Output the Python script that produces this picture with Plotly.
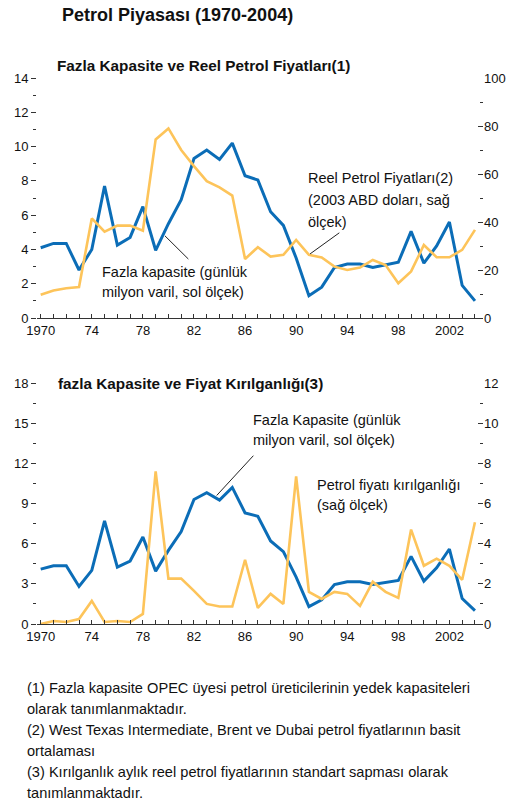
import plotly.graph_objects as go

years = list(range(1970, 2005))
excess_capacity = [4.1, 4.35, 4.35, 2.8, 4.0, 7.7, 4.25, 4.7, 6.5, 3.95,
                   5.5, 6.9, 9.3, 9.8, 9.25, 10.2, 8.3, 8.05, 6.2, 5.4,
                   3.5, 1.3, 1.8, 2.95, 3.15, 3.15, 2.95, 3.1, 3.25, 5.05,
                   3.2, 4.2, 5.6, 1.9, 1.0]
real_oil_price = [9.7, 11.5, 12.4, 12.9, 41.5, 36.0, 38.5, 38.5, 36.4, 74.4,
                  79.0, 70.0, 63.3, 57.0, 54.4, 51.0, 24.6, 29.5, 25.6, 26.3,
                  32.5, 26.3, 25.2, 21.4, 20.0, 21.0, 24.2, 22.1, 14.5, 19.4,
                  30.4, 25.3, 25.3, 28.4, 36.7]
volatility = [0.0, 0.15, 0.1, 0.25, 1.15, 0.1, 0.15, 0.1, 0.5, 7.6,
              2.26, 2.26, 1.65, 1.0, 0.87, 0.87, 3.2, 0.8, 1.5, 1.0,
              7.35, 1.6, 1.25, 1.6, 1.5, 0.9, 2.1, 1.6, 1.3, 4.7,
              2.9, 3.25, 2.9, 2.2, 5.07]
x_tickvals = [1970, 1974, 1978, 1982, 1986, 1990, 1994, 1998, 2002]
x_ticktext = ["1970", "74", "78", "82", "86", "90", "94", "98", "2002"]

OX, OY = 0, 0
W, H = 517, 805
BLUE = "#0b6db7"
ORANGE = "#fdc45a"
FONT = "Liberation Sans, Arial, sans-serif"
TXT = "#111111"


def px(x):
    return (x - OX) / W


def py(y):
    return 1 - (y - OY) / H


fig = go.Figure()
# top chart
fig.add_trace(go.Scatter(x=years, y=real_oil_price, mode="lines", xaxis="x", yaxis="y2",
                         line=dict(color=ORANGE, width=2.6), showlegend=False))
fig.add_trace(go.Scatter(x=years, y=excess_capacity, mode="lines", xaxis="x", yaxis="y",
                         line=dict(color=BLUE, width=3), showlegend=False))
# bottom chart
fig.add_trace(go.Scatter(x=years, y=volatility, mode="lines", xaxis="x2", yaxis="y4",
                         line=dict(color=ORANGE, width=2.6), showlegend=False))
fig.add_trace(go.Scatter(x=years, y=excess_capacity, mode="lines", xaxis="x2", yaxis="y3",
                         line=dict(color=BLUE, width=3), showlegend=False))

xdom = [px(37), px(483)]
top_dom = [py(318), py(78)]
bot_dom = [py(624), py(383)]
xrange_ = [1969.71, 2004.63]

tickfont = dict(family=FONT, size=13, color=TXT)

xaxis_common = dict(domain=xdom, range=xrange_, tickvals=x_tickvals, ticktext=x_ticktext,
                    ticks="inside", ticklen=4, tickcolor="#333", tickwidth=1,
                    showline=True, linecolor="#333", linewidth=1, showgrid=False,
                    zeroline=False, tickfont=tickfont, automargin=False,
                    minor=dict(dtick=1, tick0=1970, ticks="inside", ticklen=4,
                               tickcolor="#333", tickwidth=1, showgrid=False))


def yleft(dom, rng, dtick, anchor):
    return dict(domain=dom, range=rng, dtick=dtick, tick0=0, anchor=anchor,
                ticks="outside", ticklen=5, tickcolor="#333", tickwidth=1,
                showline=False, showgrid=False, zeroline=False, tickfont=tickfont,
                automargin=False,
                minor=dict(dtick=dtick / 2, tick0=0, ticks="outside", ticklen=3,
                           tickcolor="#333", tickwidth=1, showgrid=False))


def yright(dom, rng, dtick, anchor, overlay):
    return dict(domain=dom, range=rng, dtick=dtick, tick0=0, anchor=anchor,
                overlaying=overlay, side="right",
                ticks="inside", ticklen=5, tickcolor="#333", tickwidth=1,
                showline=False, showgrid=False, zeroline=False, tickfont=tickfont,
                automargin=False,
                minor=dict(dtick=dtick / 2, tick0=0, ticks="inside", ticklen=3,
                           tickcolor="#333", tickwidth=1, showgrid=False))


fig.update_layout(
    width=W, height=H, margin=dict(l=0, r=0, t=0, b=0, autoexpand=False),
    paper_bgcolor="white", plot_bgcolor="rgba(0,0,0,0)",
    xaxis=dict(anchor="y", **xaxis_common),
    xaxis2=dict(anchor="y3", **xaxis_common),
    yaxis=yleft(top_dom, [0, 14], 2, "x"),
    yaxis2=yright(top_dom, [0, 100], 20, "x", "y"),
    yaxis3=yleft(bot_dom, [0, 18], 3, "x2"),
    yaxis4=yright(bot_dom, [0, 12], 2, "x2", "y3"),
)

ann = []


def text(x, y, s, size=14.5, bold=False):
    ann.append(dict(xref="paper", yref="paper", x=px(x), y=py(y), xanchor="left", yanchor="middle",
                    text=("<b>%s</b>" % s) if bold else s, showarrow=False, align="left",
                    borderpad=0, font=dict(family=FONT, size=size, color=TXT)))


text(61, 15, "Petrol Piyasası (1970-2004)", size=18, bold=True)
text(56, 66, "Fazla Kapasite ve Reel Petrol Fiyatları(1)", size=15.3, bold=True)
text(57, 383, "fazla Kapasite ve Fiyat Kırılganlığı(3)", size=15.3, bold=True)

text(307, 178, "Reel Petrol Fiyatları(2)")
text(307, 200, "(2003 ABD doları, sağ")
text(307, 222, "ölçek)")
text(101, 272, "Fazla kapasite (günlük")
text(101, 292, "milyon varil, sol ölçek)")

text(252, 420, "Fazla Kapasite (günlük")
text(252, 440, "milyon varil, sol ölçek)")
text(316, 485, "Petrol fiyatı kırılganlığı")
text(316, 505, "(sağ ölçek)")

foot = ["(1) Fazla kapasite OPEC üyesi petrol üreticilerinin yedek kapasiteleri",
        "olarak tanımlanmaktadır.",
        "(2) West Texas Intermediate, Brent ve Dubai petrol fiyatlarının basit",
        "ortalaması",
        "(3) Kırılganlık aylık reel petrol fiyatlarının standart sapması olarak",
        "tanımlanmaktadır."]
for i, s in enumerate(foot):
    text(26, 688 + i * 21, s, size=14.6)

fig.update_layout(annotations=ann)

# pointer lines
shapes = [
    dict(type="line", xref="x", yref="y", x0=1979.73, y0=4.79, x1=1981.56, y1=3.44,
         line=dict(color="#222", width=1)),
    dict(type="line", xref="x", yref="y2", x0=1991.09, y0=26.7, x1=1993.38, y1=35.5,
         line=dict(color="#222", width=1)),
    dict(type="line", xref="x2", yref="y3", x0=1983.78, y0=9.6, x1=1986.65, y1=12.57,
         line=dict(color="#222", width=1)),
]
fig.update_layout(shapes=shapes)

fig.write_html("out.html", config={"displayModeBar": False},
               post_script="document.body.style.margin='0px';document.body.style.overflow='hidden';")
